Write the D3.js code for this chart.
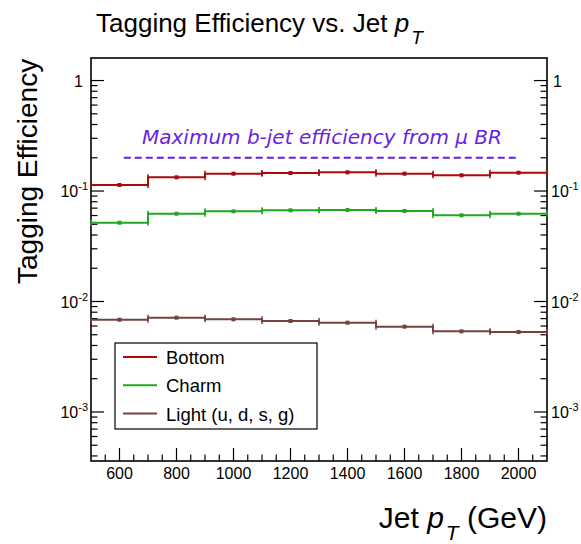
<!DOCTYPE html>
<html><head><meta charset="utf-8">
<script src="https://cdn.jsdelivr.net/npm/d3@7"></script>
<style>
html,body{margin:0;padding:0;background:#fff;}
svg{display:block;font-family:"Liberation Sans",Arial,sans-serif;}
</style></head>
<body><svg id="c" width="581" height="544"></svg>
<script>
// ---- data ----
const binEdges = [500, 700, 900, 1100, 1300, 1500, 1700, 1900, 2100];
const bottomEff = [0.1134, 0.1331, 0.1435, 0.1456, 0.1477, 0.1435, 0.1388, 0.1465];
const charmEff  = [0.0517, 0.0623, 0.0655, 0.0669, 0.0674, 0.0660, 0.0603, 0.0623];
const lightEff  = [0.00684, 0.00714, 0.00690, 0.00666, 0.00643, 0.00592, 0.00537, 0.00530];
const seriesNames = ["Bottom", "Charm", "Light (u, d, s, g)"];
const xTickValues = [600, 800, 1000, 1200, 1400, 1600, 1800, 2000];
const yTickValues = [1, 0.1, 0.01, 0.001];
const yTickExp = ["", "-1", "-2", "-3"];
const maxBLine = {value: 0.2, from: 615, to: 2000, label: "Maximum b-jet efficiency from \u03bc BR"};

// ---- layout ----
const L = 91, R = 547, T = 58, B = 461;
const colors = ["#aa0a0a", "#1fa81f", "#744040"];
const svg = d3.select("#c");
const x = d3.scaleLinear().domain([500, 2100]).range([L, R]);
const y = d3.scaleLog().domain([3.6e-4, 1.6]).range([B, T]);

const gAx = svg.append("g").attr("stroke", "#000").attr("stroke-width", 1.2);
d3.range(550, 2100, 50).forEach(v => {
  const major = xTickValues.includes(v);
  gAx.append("line").attr("x1", x(v)).attr("x2", x(v)).attr("y1", B).attr("y2", B - (major ? 13 : 6.5));
});
const yMinor = [];
[1e-4, 1e-3, 1e-2, 1e-1].forEach(d => { for (let k = 1; k <= 9; k++) yMinor.push(d * k); });
yMinor.push(1);
yMinor.filter(v => v >= 3.6e-4 && v <= 1.6).forEach(v => {
  const major = yTickValues.some(t => Math.abs(t - v) / v < 1e-6);
  const len = major ? 13 : 6.5;
  gAx.append("line").attr("x1", L).attr("x2", L + len).attr("y1", y(v)).attr("y2", y(v));
  gAx.append("line").attr("x1", R).attr("x2", R - len).attr("y1", y(v)).attr("y2", y(v));
});

svg.append("rect").attr("x", L).attr("y", T).attr("width", R - L).attr("height", B - T)
  .attr("fill", "none").attr("stroke", "#000").attr("stroke-width", 1.6);

xTickValues.forEach(v => {
  svg.append("text").attr("x", x(v)).attr("y", B + 18).attr("text-anchor", "middle")
    .attr("font-size", 16).text(v);
});
yTickValues.forEach((v, i) => {
  const yy = y(v) + 6;
  if (yTickExp[i] === "") {
    svg.append("text").attr("x", L - 8).attr("y", yy).attr("text-anchor", "end").attr("font-size", 16).text("1");
    svg.append("text").attr("x", R + 6).attr("y", yy).attr("text-anchor", "start").attr("font-size", 16).text("1");
  } else {
    const t1 = svg.append("text").attr("x", L - 3).attr("y", yy).attr("text-anchor", "end").attr("font-size", 16);
    t1.append("tspan").text("10");
    t1.append("tspan").attr("font-size", 11).attr("dy", -7).text(yTickExp[i]);
    const t2 = svg.append("text").attr("x", R + 4).attr("y", yy).attr("text-anchor", "start").attr("font-size", 16);
    t2.append("tspan").text("10");
    t2.append("tspan").attr("font-size", 11).attr("dy", -7).text(yTickExp[i]);
  }
});

const allSeries = [bottomEff, charmEff, lightEff];
allSeries.forEach((vals, si) => {
  const g = svg.append("g").attr("stroke", colors[si]).attr("fill", colors[si]);
  const pts = [];
  vals.forEach((v, i) => { pts.push([binEdges[i], v]); pts.push([binEdges[i + 1], v]); });
  const line = d3.line().x(d => x(d[0])).y(d => y(d[1]));
  g.append("path").attr("d", line(pts)).attr("fill", "none").attr("stroke-width", 2);
  vals.forEach((v, i) => {
    [binEdges[i], binEdges[i + 1]].forEach(e => {
      g.append("line").attr("x1", x(e)).attr("x2", x(e)).attr("y1", y(v) - 3).attr("y2", y(v) + 3).attr("stroke-width", 1.5);
    });
    const cx = x((binEdges[i] + binEdges[i + 1]) / 2);
    g.append("rect").attr("x", cx - 2).attr("y", y(v) - 2).attr("width", 4).attr("height", 4).attr("stroke", "none");
  });
});

const purple = "#6a1fe0";
svg.append("line").attr("x1", x(maxBLine.from)).attr("x2", x(maxBLine.to))
  .attr("y1", y(maxBLine.value)).attr("y2", y(maxBLine.value))
  .attr("stroke", purple).attr("stroke-width", 2).attr("stroke-dasharray", "7,4");
svg.append("text").attr("x", 142).attr("y", 144).attr("fill", purple)
  .attr("font-family", "DejaVu Sans").attr("font-style", "italic").attr("font-size", 20)
  .text(maxBLine.label);

const lg = svg.append("g");
lg.append("rect").attr("x", 115).attr("y", 343).attr("width", 202).attr("height", 86)
  .attr("fill", "#fff").attr("stroke", "#000").attr("stroke-width", 1.2);
seriesNames.forEach((n, i) => {
  const yy = 357 + i * 28.3;
  lg.append("line").attr("x1", 123).attr("x2", 157).attr("y1", yy).attr("y2", yy)
    .attr("stroke", colors[i]).attr("stroke-width", 2);
  lg.append("text").attr("x", 166).attr("y", yy + 7).attr("font-size", 18.5).text(n);
});

const title = svg.append("text").attr("x", 96).attr("y", 32).attr("font-size", 26);
title.append("tspan").text("Tagging Efficiency vs. Jet ");
title.append("tspan").attr("font-style", "italic").text("p");
title.append("tspan").attr("font-style", "italic").attr("font-size", 19).attr("dy", 12).attr("dx", 2).text("T");

const xl = svg.append("text").attr("x", 547).attr("y", 528).attr("text-anchor", "end").attr("font-size", 30);
xl.append("tspan").text("Jet ");
xl.append("tspan").attr("font-style", "italic").text("p");
xl.append("tspan").attr("font-style", "italic").attr("font-size", 21).attr("dy", 12).attr("dx", 2).text("T");
xl.append("tspan").attr("dy", -12).text(" (GeV)");

svg.append("text").attr("transform", "translate(37,284) rotate(-90)")
  .attr("font-size", 28).text("Tagging Efficiency");
</script></body></html>
